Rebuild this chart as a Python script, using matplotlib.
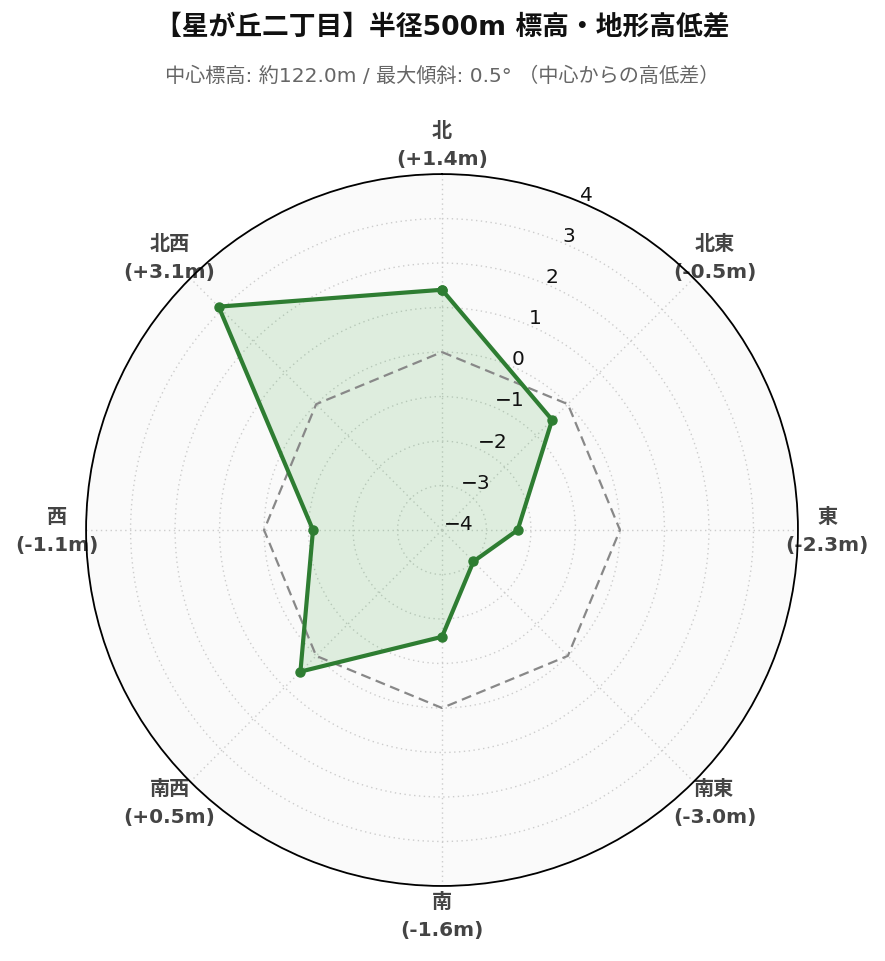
import numpy as np
import matplotlib
matplotlib.use("Agg")
import matplotlib.pyplot as plt

plt.rcParams['font.family'] = ['DejaVu Sans', 'Noto Sans CJK JP']

# data
directions = ["北", "北東", "東", "南東", "南", "南西", "西", "北西"]
diffs = [1.4, -0.5, -2.3, -3.0, -1.6, 0.5, -1.1, 3.1]
radial_ticks = [-4, -3, -2, -1, 0, 1, 2, 3, 4]
title = "【星が丘二丁目】半径500m 標高・地形高低差"
subtitle = "中心標高: 約122.0m / 最大傾斜: 0.5° （中心からの高低差）"

green = "#2e7d32"
angles = np.deg2rad(np.arange(0, 360, 45))
theta_closed = np.append(angles, angles[0])
vals_closed = np.append(diffs, diffs[0])

fig = plt.figure(figsize=(8.85, 9.62), dpi=100)
ax = fig.add_axes([0.0972, 0.078, 0.8045, 0.740], projection="polar")
ax.set_theta_zero_location("N")
ax.set_theta_direction(-1)
ax.set_ylim(-4, 4)
ax.set_facecolor("#fafafa")

ax.set_xticks(angles)
ax.set_xticklabels([])
ax.set_yticks(radial_ticks)
ax.set_yticklabels([])
ax.grid(True, color="#cccccc", linestyle=(0, (1, 2.5)), linewidth=1.0)
ax.spines["polar"].set_color("black")
ax.spines["polar"].set_linewidth(1.3)
ax.spines["polar"].set_zorder(5)

# reference line at 0 m
ax.plot(theta_closed, np.zeros_like(theta_closed), color="#888888",
        linestyle=(0, (4.5, 2.5)), linewidth=1.6, zorder=3)

ax.fill(theta_closed, vals_closed, color="#4caf50", alpha=0.16, zorder=2,
        linewidth=0)
ax.plot(theta_closed, vals_closed, color=green, linewidth=3.0,
        marker="o", markersize=6.5, zorder=4)

# radial tick labels along 22.5 deg
for t in radial_ticks:
    lab = str(t).replace("-", "\u2212")
    ax.annotate(lab, xy=(np.deg2rad(22.5), t), xytext=(1, -2),
                textcoords="offset points", ha="left", va="bottom",
                fontsize=14.5, color="#111111", zorder=6)

# direction labels
for a, d, v in zip(angles, directions, diffs):
    ax.text(a, 4.66, f"{d}\n({v:+.1f}m)", ha="center", va="center",
            fontsize=14.5, fontweight="bold", color="#444444",
            linespacing=1.6, clip_on=False, zorder=1)

fig.text(0.5, 0.971, title, ha="center", va="center", fontsize=19.3,
         fontweight="bold", color="#111111")
fig.text(0.5, 0.921, subtitle, ha="center", va="center", fontsize=14.5,
         color="#666666")

fig.savefig("out.png", dpi=100)
